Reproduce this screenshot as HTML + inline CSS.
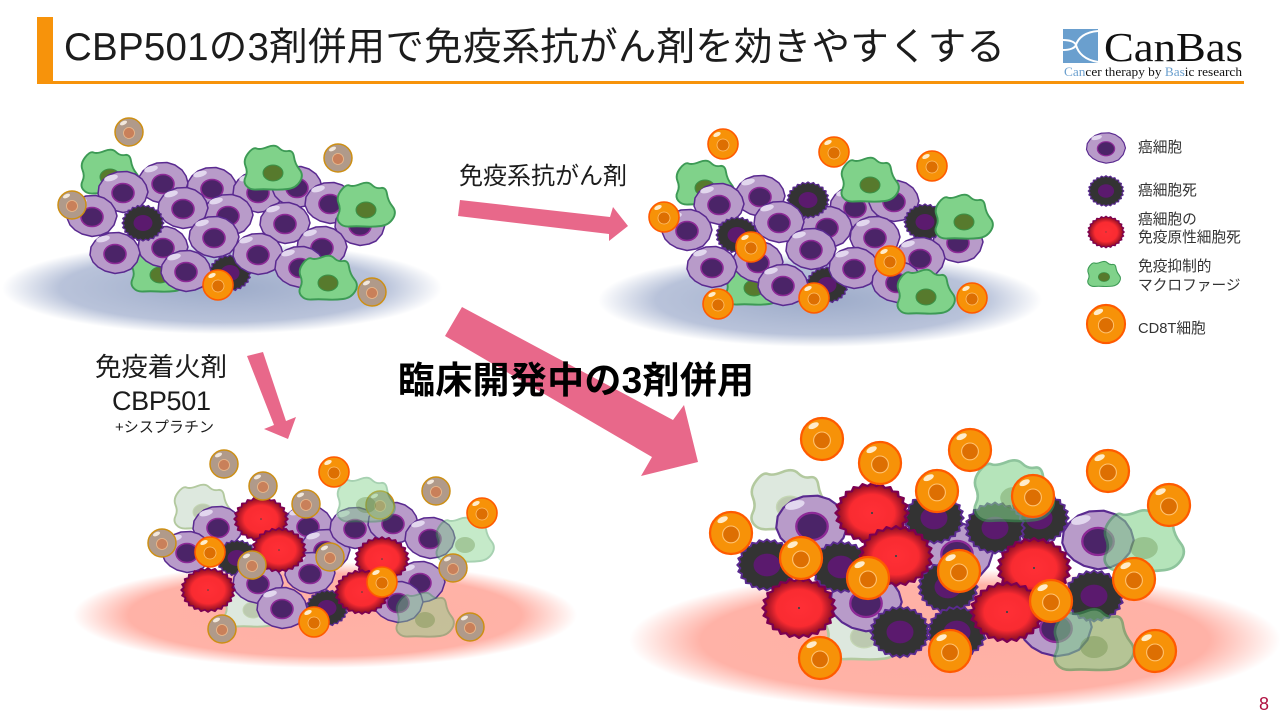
<!DOCTYPE html>
<html lang="ja"><head><meta charset="utf-8"><title>CBP501</title>
<style>
html,body{margin:0;padding:0;background:#fff;width:1280px;height:720px;overflow:hidden}
svg{display:block}
text{font-family:"Liberation Sans","Noto Sans CJK JP",sans-serif;fill:#1c1c1c}
.serif{font-family:"Liberation Serif","Noto Serif CJK SC",serif;fill:#111}
.lg{font-size:14.7px;fill:#333}
</style></head><body>
<svg width="1280" height="720" viewBox="0 0 1280 720" xmlns="http://www.w3.org/2000/svg">
<defs>
<radialGradient id="blue"><stop offset="0" stop-color="#9dabc9"/><stop offset=".74" stop-color="#b9c3da"/><stop offset="1" stop-color="#fff"/></radialGradient>
<radialGradient id="pink"><stop offset="0" stop-color="#ffb0a4"/><stop offset=".78" stop-color="#ffb2a7"/><stop offset="1" stop-color="#fff"/></radialGradient>
<radialGradient id="redg"><stop offset="0" stop-color="#ff2f36"/><stop offset=".62" stop-color="#f92b31"/><stop offset="1" stop-color="#7c0a22"/></radialGradient>
<polygon id="gear" points="22,0 19.8,2.6 21.3,5.7 18.5,7.7 19.1,11 15.9,12.2 15.6,15.6 12.2,15.9 11,19.1 7.7,18.5 5.7,21.3 2.6,19.8 0,22 -2.6,19.8 -5.7,21.3 -7.7,18.5 -11,19.1 -12.2,15.9 -15.6,15.6 -15.9,12.2 -19.1,11 -18.5,7.7 -21.3,5.7 -19.8,2.6 -22,0 -19.8,-2.6 -21.3,-5.7 -18.5,-7.7 -19.1,-11 -15.9,-12.2 -15.6,-15.6 -12.2,-15.9 -11,-19.1 -7.7,-18.5 -5.7,-21.3 -2.6,-19.8 0,-22 2.6,-19.8 5.7,-21.3 7.7,-18.5 11,-19.1 12.2,-15.9 15.6,-15.6 15.9,-12.2 19.1,-11 18.5,-7.7 21.3,-5.7 19.8,-2.6" stroke-linejoin="round"/>
<path id="mshape" d="M-27.5,-7Q-30,-13 -25,-19.5Q-20,-26 -16.5,-24.5Q-13,-23 -5.5,-26Q2,-29 6,-25Q10,-21 15,-22Q20,-23 21,-16Q22,-9 26.5,-3.5Q31,2 27,8.5Q23,15 15,16Q7,17 -1.5,16.5Q-10,16 -16.5,16.5Q-23,17 -26.5,13Q-30,9 -27.5,4Q-25,-1 -27.5,-7Z"/>
<g id="p"><polygon points="25,0 23,-7 19,-13 12,-18 4,-20.5 -6,-20 -14,-17 -20,-12 -24,-6 -25,2 -22,9 -17,14 -10,18 0,20.5 9,19 16,16 22,9" fill="#b89bc9" stroke="#5a2a90" stroke-width="1.5" stroke-linejoin="round"/><ellipse cx="0" cy="1" rx="11" ry="9.5" fill="#4b2468" stroke="#8d2a97" stroke-width="1.6"/><ellipse cx="-12" cy="-14" rx="7" ry="3" transform="rotate(-15 -12 -14)" fill="#e2d7ee"/></g>
<g id="d"><g transform="scale(.95,.82)"><use href="#gear" fill="#333" stroke="#5a2a90" stroke-width="1.5"/></g><ellipse rx="9.5" ry="8" fill="#5b1a6e"/></g>
<g id="r"><g transform="scale(1.22,1)"><use href="#gear" fill="url(#redg)" stroke="#7c0052" stroke-width="1.5"/></g><circle r=".8" fill="#444"/></g>
<g id="m"><use href="#mshape" fill="#80d28a" stroke="#3d9a55" stroke-width="1.9"/><ellipse rx="10" ry="8" fill="#577a2d" stroke="#3a9248" stroke-width="1"/></g>
<g id="mt"><use href="#mshape" fill="#80d28a" stroke="#3d9a55" stroke-width="1.9" opacity=".45"/><ellipse rx="10" ry="8" fill="#577a2d" opacity=".3"/></g>
<g id="mts"><use href="#mshape" fill="#80d28a" stroke="#3d9a55" stroke-width="1.9" opacity=".58"/><ellipse rx="10" ry="8" fill="#577a2d" opacity=".3"/></g>
<g id="mf"><use href="#mshape" fill="#dde8de" stroke="#b3c99f" stroke-width="1.9"/><ellipse rx="10" ry="8" fill="#bcc9b0" stroke="#c4d6b4"/></g>
<g id="c"><circle r="15" fill="#f79208" stroke="#ff5a00" stroke-width="1.6"/><circle cy="1" r="6" fill="#dd6f02" stroke="#ffc26f" stroke-width=".8"/><ellipse cx="-6" cy="-9.5" rx="4" ry="2" transform="rotate(-25 -6 -9.5)" fill="#ffeccb"/></g>
<g id="t"><circle r="14" fill="#b09a8a" stroke="#cd8f14" stroke-width="1.5"/><circle cy="1" r="5.5" fill="#c9805a" stroke="#ecb98c" stroke-width=".8"/><ellipse cx="-5.5" cy="-9" rx="3.8" ry="1.9" transform="rotate(-25 -5.5 -9)" fill="#f2e8dc"/></g>
<g id="PP"><use href="#p" transform="scale(1.43)"/></g>
<g id="DD"><use href="#d" transform="scale(1.42)"/></g>
<g id="RR"><use href="#r" transform="scale(1.36)"/></g>
<g id="CC"><use href="#c" transform="scale(1.4)"/></g>
<g id="MT"><use href="#mts" transform="scale(1.38)"/></g>
<g id="MF"><use href="#mf" transform="scale(1.35)"/></g>
</defs>

<!-- header -->
<rect x="37" y="17" width="16" height="67" fill="#f7930b"/>
<rect x="37" y="81" width="1207" height="3" fill="#f7930b"/>
<text x="64" y="60" font-size="38.5" textLength="941" lengthAdjust="spacing">CBP501の3剤併用で免疫系抗がん剤を効きやすくする</text>
<rect x="1063" y="29" width="35" height="34" fill="#6a9fce"/>
<path d="M1098,31C1085,32 1078,38 1076,45C1078,53 1085,60 1098,62M1063,40C1070,40 1075,42 1076,45C1075,48 1070,50 1063,50" fill="none" stroke="#fff" stroke-width="2"/>
<text class="serif" x="1104" y="61" font-size="41" textLength="139" lengthAdjust="spacingAndGlyphs">CanBas</text>
<text class="serif" x="1064" y="76" font-size="12.5" textLength="178" lengthAdjust="spacingAndGlyphs"><tspan fill="#6a9fce">Can</tspan>cer therapy by <tspan fill="#6a9fce">Bas</tspan>ic research</text>

<!-- grounds -->
<ellipse cx="222" cy="288" rx="220" ry="46" fill="url(#blue)"/>
<ellipse cx="820" cy="300" rx="222" ry="47" fill="url(#blue)"/>
<ellipse cx="325" cy="615" rx="252" ry="53" fill="url(#pink)"/>
<ellipse cx="955" cy="640" rx="326" ry="71" fill="url(#pink)"/>

<!-- arrows -->
<g fill="#e8688a">
<polygon points="460,200 610,217 613,207 628,226 609,241 609,234 458,216"/>
<polygon points="247,356 263,352 286,421 296,417 288,439 264,429 274,425"/>
<polygon points="462,307 673,420 684,405 698,462 641,476 652,457 445,336"/>
</g>

<!-- scene 1 -->
<g>
<use href="#m" x="110" y="177"/><use href="#m" x="160" y="275"/>
<use href="#p" x="163" y="183"/><use href="#p" x="212" y="188"/><use href="#p" x="258" y="192"/><use href="#p" x="297" y="187"/><use href="#p" x="330" y="203"/><use href="#p" x="360" y="225"/>
<use href="#p" x="123" y="192"/><use href="#p" x="92" y="216"/>
<use href="#p" x="228" y="215"/><use href="#p" x="183" y="208"/><use href="#p" x="285" y="223"/><use href="#p" x="163" y="247"/><use href="#p" x="322" y="247"/>
<use href="#d" x="143" y="223"/><use href="#d" x="230" y="273"/>
<use href="#p" x="214" y="237"/><use href="#p" x="115" y="253"/><use href="#p" x="258" y="254"/><use href="#p" x="300" y="267"/><use href="#p" x="186" y="271"/>
<use href="#m" x="273" y="173"/><use href="#m" x="366" y="210"/><use href="#m" x="328" y="283"/>
<use href="#c" x="218" y="285"/>
<use href="#t" x="129" y="132"/><use href="#t" x="338" y="158"/><use href="#t" x="72" y="205"/><use href="#t" x="372" y="292"/>
</g>

<!-- scene 2 -->
<g>
<use href="#m" x="705" y="188"/><use href="#m" x="754" y="288"/>
<use href="#p" x="760" y="196"/><use href="#p" x="855" y="207"/><use href="#p" x="894" y="201"/><use href="#p" x="958" y="242"/>
<use href="#p" x="719" y="204"/><use href="#p" x="687" y="230"/><use href="#p" x="827" y="227"/>
<use href="#d" x="808" y="200"/>
<use href="#p" x="779" y="222"/><use href="#d" x="925" y="222"/>
<use href="#d" x="737" y="235"/>
<use href="#p" x="758" y="262"/><use href="#p" x="920" y="258"/><use href="#d" x="827" y="285"/>
<use href="#p" x="811" y="249"/><use href="#p" x="875" y="237"/><use href="#p" x="712" y="267"/><use href="#p" x="854" y="268"/><use href="#p" x="897" y="282"/><use href="#p" x="783" y="285"/>
<use href="#m" x="870" y="185"/><use href="#m" x="964" y="222"/><use href="#m" x="926" y="297"/>
<use href="#c" x="723" y="144"/><use href="#c" x="834" y="152"/><use href="#c" x="932" y="166"/><use href="#c" x="664" y="217"/><use href="#c" x="751" y="247"/><use href="#c" x="890" y="261"/><use href="#c" x="718" y="304"/><use href="#c" x="814" y="298"/><use href="#c" x="972" y="298"/>
</g>

<!-- scene 3 -->
<g>
<use href="#mf" x="203" y="512"/><use href="#mf" x="253" y="610"/>
<use href="#p" x="218" y="527"/><use href="#p" x="308" y="526"/><use href="#p" x="187" y="552"/><use href="#p" x="325" y="550"/><use href="#p" x="355" y="528"/><use href="#p" x="393" y="523"/><use href="#p" x="430" y="538"/>
<use href="#d" x="237" y="558"/>
<use href="#p" x="258" y="583"/><use href="#p" x="310" y="573"/><use href="#p" x="420" y="582"/>
<use href="#d" x="327" y="608"/>
<use href="#p" x="282" y="608"/><use href="#p" x="398" y="602"/>
<use href="#r" x="261" y="519"/><use href="#r" x="279" y="550"/><use href="#r" x="208" y="590"/><use href="#r" x="382" y="559"/><use href="#r" x="362" y="592"/>
<use href="#t" x="380" y="505"/>
<use href="#mt" x="366" y="505"/><use href="#mt" x="465" y="545"/><use href="#mt" x="425" y="620"/>
<use href="#c" x="334" y="472"/><use href="#c" x="482" y="513"/><use href="#c" x="210" y="552"/><use href="#c" x="382" y="582"/><use href="#c" x="314" y="622"/>
<use href="#t" x="224" y="464"/><use href="#t" x="263" y="486"/><use href="#t" x="306" y="504"/><use href="#t" x="436" y="491"/><use href="#t" x="162" y="543"/><use href="#t" x="252" y="565"/><use href="#t" x="330" y="557"/><use href="#t" x="453" y="568"/><use href="#t" x="222" y="629"/><use href="#t" x="470" y="627"/>
</g>

<!-- scene 4 -->
<g>
<use href="#MF" x="790" y="507"/><use href="#MF" x="864" y="637"/>
<use href="#PP" x="812" y="525"/><use href="#PP" x="957" y="553"/><use href="#PP" x="866" y="602"/>
<use href="#DD" x="767" y="565"/><use href="#DD" x="841" y="567"/><use href="#DD" x="934" y="518"/><use href="#DD" x="1039" y="518"/><use href="#DD" x="995" y="528"/><use href="#DD" x="948" y="587"/>
<use href="#PP" x="1098" y="540"/><use href="#PP" x="1056" y="627"/>
<use href="#DD" x="1094" y="596"/><use href="#DD" x="900" y="632"/><use href="#DD" x="957" y="632"/>
<use href="#RR" x="872" y="513"/><use href="#RR" x="896" y="556"/><use href="#RR" x="799" y="608"/><use href="#RR" x="1034" y="568"/><use href="#RR" x="1007" y="612"/>
<use href="#MT" x="1014" y="498"/><use href="#MT" x="1144" y="548"/><use href="#MT" x="1094" y="647"/>
<use href="#CC" x="822" y="439"/><use href="#CC" x="880" y="463"/><use href="#CC" x="970" y="450"/><use href="#CC" x="1108" y="471"/><use href="#CC" x="1169" y="505"/><use href="#CC" x="937" y="491"/><use href="#CC" x="1033" y="496"/><use href="#CC" x="731" y="533"/><use href="#CC" x="801" y="558"/><use href="#CC" x="868" y="578"/><use href="#CC" x="959" y="571"/><use href="#CC" x="1134" y="579"/><use href="#CC" x="1051" y="601"/><use href="#CC" x="820" y="658"/><use href="#CC" x="950" y="651"/><use href="#CC" x="1155" y="651"/>
</g>

<!-- legend -->
<use href="#p" transform="translate(1106,148) scale(.78,.74)"/>
<use href="#d" transform="translate(1106,191) scale(.85)"/>
<use href="#r" transform="translate(1106,232) scale(.68,.72)"/>
<use href="#m" transform="translate(1104,277) scale(.57)"/>
<use href="#c" transform="translate(1106,324) scale(1.27)"/>
<text class="lg" x="1138" y="152">癌細胞</text>
<text class="lg" x="1138" y="195">癌細胞死</text>
<text class="lg" x="1138" y="224">癌細胞の</text>
<text class="lg" x="1138" y="242">免疫原性細胞死</text>
<text class="lg" x="1138" y="271">免疫抑制的</text>
<text class="lg" x="1138" y="290">マクロファージ</text>
<text class="lg" x="1138" y="333">CD8T細胞</text>

<!-- labels -->
<text x="459" y="184" font-size="24" textLength="168">免疫系抗がん剤</text>
<text x="95" y="376" font-size="26.4" textLength="132">免疫着火剤</text>
<text x="112" y="410" font-size="27" textLength="99">CBP501</text>
<text x="115" y="432" font-size="15" textLength="99">+シスプラチン</text>
<text x="398" y="393" font-size="37" font-weight="700" textLength="356" style="fill:#000">臨床開発中の3剤併用</text>
<text x="1259" y="710" font-size="18" style="fill:#b01040">8</text>
</svg>
</body></html>
